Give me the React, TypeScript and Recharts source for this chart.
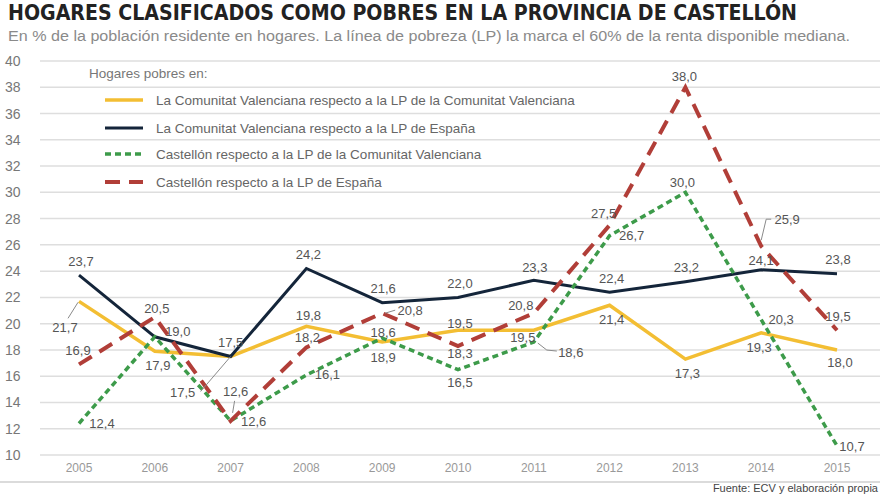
import { LineChart, Line, XAxis, YAxis, CartesianGrid, LabelList } from 'recharts';

/* Hogares pobres en la provincia de Castellón, 2005-2015 (% de la población) */

const years = ['2005', '2006', '2007', '2008', '2009', '2010', '2011', '2012', '2013', '2014', '2015'];

// La Comunitat Valenciana respecto a la LP de la Comunitat Valenciana
const cvLpCv = [21.7, 17.9, 17.5, 19.8, 18.6, 19.5, 19.5, 21.4, 17.3, 19.3, 18.0];
// La Comunitat Valenciana respecto a la LP de España
const cvLpEs = [23.7, 19.0, 17.5, 24.2, 21.6, 22.0, 23.3, 22.4, 23.2, 24.1, 23.8];
// Castellón respecto a la LP de la Comunitat Valenciana
const casLpCv = [12.4, 19.0, 12.6, 16.1, 18.9, 16.5, 18.6, 26.7, 30.0, 20.3, 10.7];
// Castellón respecto a la LP de España
const casLpEs = [16.9, 20.5, 12.6, 18.2, 20.8, 18.3, 20.8, 27.5, 38.0, 25.9, 19.5];

const yTicks = [10, 12, 14, 16, 18, 20, 22, 24, 26, 28, 30, 32, 34, 36, 38, 40];

const legendTitle = 'Hogares pobres en:';
const seriesNames = [
  'La Comunitat Valenciana respecto a la LP de la Comunitat Valenciana',
  'La Comunitat Valenciana respecto a la LP de España',
  'Castellón respecto a la LP de la Comunitat Valenciana',
  'Castellón respecto a la LP de España',
];

const data = years.map((year, i) => ({
  year,
  cvLpCv: cvLpCv[i],
  cvLpEs: cvLpEs[i],
  casLpCv: casLpCv[i],
  casLpEs: casLpEs[i],
}));

const FONT = '"Liberation Sans", Arial, sans-serif';

const series = [
  { key: 'cvLpCv', color: '#f3be33', width: 3.5, dash: undefined },
  { key: 'cvLpEs', color: '#14253a', width: 3, dash: undefined },
  { key: 'casLpCv', color: '#3d9b4a', width: 3.5, dash: '6 4' },
  { key: 'casLpEs', color: '#b13e38', width: 4, dash: '15 9' },
];

// label placement per point: [dx, dy] from the point, optional leader line, null = no label
type LabelPos = { d: [number, number]; leader?: [number, number][] } | null;

const labelPos: Record<string, LabelPos[]> = {
  cvLpCv: [
    { d: [-14, 26], leader: [[-1, 1], [-11, 17]] },
    { d: [3, 14] },
    { d: [-48, 36], leader: [[0, 0], [-30, 35]] },
    { d: [2, -11] },
    { d: [1, -10] },
    { d: [2, -7] },
    { d: [-11, 7] },
    { d: [2, 14] },
    { d: [2, 14] },
    { d: [-2, 15] },
    { d: [3, 13] },
  ],
  cvLpEs: [
    { d: [2, -14] },
    { d: [23, -5] },
    { d: [0, -14] },
    { d: [2, -14] },
    { d: [1, -14] },
    { d: [2, -14] },
    { d: [1, -13] },
    { d: [2, -14] },
    { d: [1, -14] },
    { d: [0, -9] },
    { d: [1, -14] },
  ],
  casLpCv: [
    { d: [23, 0] },
    null,
    { d: [23, 1] },
    { d: [21, 0] },
    { d: [1, 19] },
    { d: [2, 13] },
    { d: [37, 10], leader: [[4, 1], [13, 8], [23, 9]] },
    { d: [22, 0] },
    { d: [-3, -10] },
    { d: [20, 0] },
    { d: [15, 1] },
  ],
  casLpEs: [
    { d: [-1, -14] },
    { d: [2, -9] },
    { d: [5, -29], leader: [[2, -8], [4, -20]] },
    { d: [1, -10] },
    { d: [28, -3], leader: [[3, 0], [13, -3]] },
    { d: [2, 8] },
    { d: [-13, -8] },
    { d: [-6, -12] },
    { d: [-1, -11] },
    { d: [26, -27], leader: [[0, -6], [5, -27], [10, -27]] },
    { d: [1, -14] },
  ],
};

const fmt = (v: number) => v.toFixed(1).replace('.', ',');

const makeLabel = (key: string) => (props: any) => {
  const { x, y, value, index } = props;
  const pos = labelPos[key][index];
  if (!pos || x == null || y == null) return null;
  const [dx, dy] = pos.d;
  return (
    <g>
      {pos.leader && (
        <polyline
          points={pos.leader.map(([lx, ly]) => `${x + lx},${y + ly}`).join(' ')}
          fill="none"
          stroke="#8a8a8a"
          strokeWidth={1}
        />
      )}
      <text
        x={x + dx}
        y={y + dy}
        textAnchor="middle"
        dominantBaseline="central"
        fontSize={13}
        fontFamily={FONT}
        fill="#555"
      >
        {fmt(value)}
      </text>
    </g>
  );
};

const YTick = ({ y, payload }: any) => (
  <text x={5} y={y} textAnchor="start" dominantBaseline="central" fontSize={14} fontFamily={FONT} fill="#777">
    {payload.value}
  </text>
);

const legendRows = [100, 128, 154, 182];

const Overlay = () => (
  <svg width={880} height={495} style={{ position: 'absolute', top: 0, left: 0, pointerEvents: 'none' }}>
    <text
      x={8}
      y={20}
      fontSize={22}
      fontWeight="bold"
      fontFamily='"Liberation Sans Narrow", "DejaVu Sans Condensed", Arial, sans-serif'
      fill="#222"
      textLength={789}
      lengthAdjust="spacingAndGlyphs"
    >
      HOGARES CLASIFICADOS COMO POBRES EN LA PROVINCIA DE CASTELLÓN
    </text>
    <text
      x={8}
      y={41}
      fontSize={15.5}
      fontFamily={FONT}
      fill="#8a8a8a"
      textLength={842}
      lengthAdjust="spacingAndGlyphs"
    >
      En % de la población residente en hogares. La línea de pobreza (LP) la marca el 60% de la renta disponible mediana.
    </text>

    {/* legend */}
    <text x={89} y={73} dominantBaseline="central" fontSize={13.5} fontFamily={FONT} fill="#777">
      {legendTitle}
    </text>
    {series.map((s, i) => (
      <g key={s.key}>
        <line
          x1={105}
          x2={143}
          y1={legendRows[i]}
          y2={legendRows[i]}
          stroke={s.color}
          strokeWidth={s.width}
          strokeDasharray={s.dash}
        />
        <text x={156} y={legendRows[i]} dominantBaseline="central" fontSize={13.5} fontFamily={FONT} fill="#666">
          {seriesNames[i]}
        </text>
      </g>
    ))}

    <line x1={0} x2={880} y1={482} y2={482} stroke="#cfcfcf" strokeWidth={1.5} />
    <text x={878} y={492} textAnchor="end" fontSize={11} fontFamily={FONT} fill="#444">
      Fuente: ECV y elaboración propia
    </text>
  </svg>
);

const App = () => {
  return (
    <div style={{ position: 'relative', width: 880, height: 495, overflow: 'hidden', background: '#fff' }}>
      <style>{'body{margin:0}'}</style>
      <LineChart width={880} height={495} data={data} margin={{ top: 61, right: 0, left: 0, bottom: 10 }}>
        <CartesianGrid vertical={false} stroke="#dedede" strokeWidth={1.5} />
        <XAxis
          dataKey="year"
          height={30}
          padding={{ left: 39, right: 43 }}
          axisLine={false}
          tickLine={false}
          tick={{ fontSize: 12, fill: '#999', fontFamily: FONT }}
        />
        <YAxis
          width={40}
          domain={[10, 40]}
          ticks={yTicks}
          interval={0}
          axisLine={false}
          tickLine={false}
          tick={<YTick />}
        />
        {series.map((s) => (
          <Line
            key={s.key}
            type="linear"
            dataKey={s.key}
            stroke={s.color}
            strokeWidth={s.width}
            strokeDasharray={s.dash}
            dot={false}
            activeDot={false}
            isAnimationActive={false}
          >
            <LabelList dataKey={s.key} content={makeLabel(s.key)} />
          </Line>
        ))}
      </LineChart>
      <Overlay />
    </div>
  );
};

export default App;
